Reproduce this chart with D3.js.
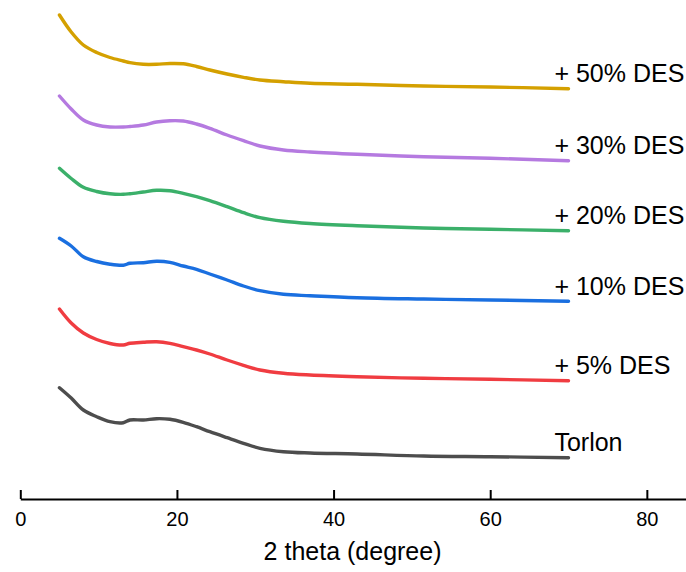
<!DOCTYPE html>
<html>
<head>
<meta charset="utf-8">
<script src="https://cdn.jsdelivr.net/npm/d3@7"></script>
<style>
  body { margin: 0; background: #fff; }
  text { font-family: Arial, "Liberation Sans", sans-serif; }
</style>
</head>
<body>
<script>
// 2 theta positions (degree) where each trace was read
var theta = [5, 6.5, 8.05, 9.75, 11.45, 13.15, 14.0, 15.7, 17.4, 19.1, 20.8, 22.5, 24.2, 26.4, 28.5, 30.6, 33.6, 37.0, 43.0, 51.5, 60.0, 70.0];

// stacked intensities (a.u.), bottom trace first
var torlon = [111.3, 101, 89, 82.3, 77.3, 76.3, 79, 79, 80.3, 79.7, 76.7, 72.3, 67.3, 61.3, 55.7, 50.7, 47.3, 46, 45, 43, 42.3, 41.3];
var des5   = [190, 176, 166, 159.5, 155.5, 154, 155.7, 156.7, 157.3, 155.7, 152.3, 149, 145, 139, 133.7, 129, 125.7, 124, 122.3, 120.7, 119.7, 118.3];
var des10  = [260.7, 253, 242.3, 237.5, 234.8, 233.8, 235.7, 236.3, 237.7, 236.7, 233, 229.7, 225, 219, 213, 208.3, 204.7, 203.3, 201.3, 200, 199, 197.7];
var des20  = [330.7, 320.5, 311.7, 307.5, 305.2, 304.7, 305.3, 307, 308.7, 308.3, 305.7, 302.3, 298.3, 292.3, 286.3, 281.3, 277.7, 275.5, 273.3, 271, 269.7, 268.3];
var des30  = [403, 390, 379, 374, 372, 372, 372.5, 374, 377, 378.3, 378, 375, 370.7, 364, 358.3, 353, 349, 347, 344.7, 342.3, 340.7, 338.3];
var des50  = [484, 467, 454, 446.5, 441.5, 438, 436.3, 434.7, 434.7, 435.5, 435.2, 432.5, 429, 425, 421.7, 419, 417.3, 415.7, 414.7, 413, 412, 410.3];

var labels = ["Torlon", "+ 5% DES", "+ 10% DES", "+ 20% DES", "+ 30% DES", "+ 50% DES"];
var colors = ["#4d4d4d", "#f03c41", "#1a6fe0", "#3bb06a", "#b57ae0", "#d4a000"];
var seriesList = [torlon, des5, des10, des20, des30, des50];
var xTicks = [0, 20, 40, 60, 80];

var width = 686, height = 572;

var svg = d3.select("body").append("svg")
    .attr("width", width).attr("height", height);

var x = d3.scaleLinear().domain([0, 85]).range([20.3, 686]);
var y = d3.scaleLinear().domain([0, 500]).range([499, -1]);

var line = d3.line()
    .x(function(d, i) { return x(theta[i]); })
    .y(function(d) { return y(d); })
    .curve(d3.curveCatmullRom.alpha(0.5));

var traces = svg.append("g").attr("class", "traces");

seriesList.forEach(function(s, k) {
  traces.append("path")
      .attr("d", line(s))
      .attr("fill", "none")
      .attr("stroke", colors[k])
      .attr("stroke-width", 3.4)
      .attr("stroke-linejoin", "round")
      .attr("stroke-linecap", "round");

  traces.append("text")
      .attr("x", x(68.2))
      .attr("y", y(s[s.length - 1]) - 6.5)
      .style("font-size", "25px")
      .attr("fill", "#000")
      .text(labels[k]);
});

// bottom axis, ticks pointing up
var xAxis = d3.axisBottom(x)
    .tickValues(xTicks)
    .tickSizeInner(-9)
    .tickSizeOuter(0)
    .tickPadding(13);

var gx = svg.append("g")
    .attr("transform", "translate(0," + y(0) + ")")
    .call(xAxis);

gx.select(".domain").attr("stroke", "#000").attr("stroke-width", 2);
gx.selectAll(".tick line").attr("stroke", "#000").attr("stroke-width", 2);
gx.selectAll(".tick text")
    .attr("fill", "#000")
    .style("font-size", "20px")
    .style("font-family", "Arial, 'Liberation Sans', sans-serif");

svg.append("text")
    .attr("x", (x(0) + x(80)) / 2 + 19)
    .attr("y", 560)
    .attr("text-anchor", "middle")
    .style("font-size", "25px")
    .attr("fill", "#000")
    .text("2 theta (degree)");
</script>
</body>
</html>
